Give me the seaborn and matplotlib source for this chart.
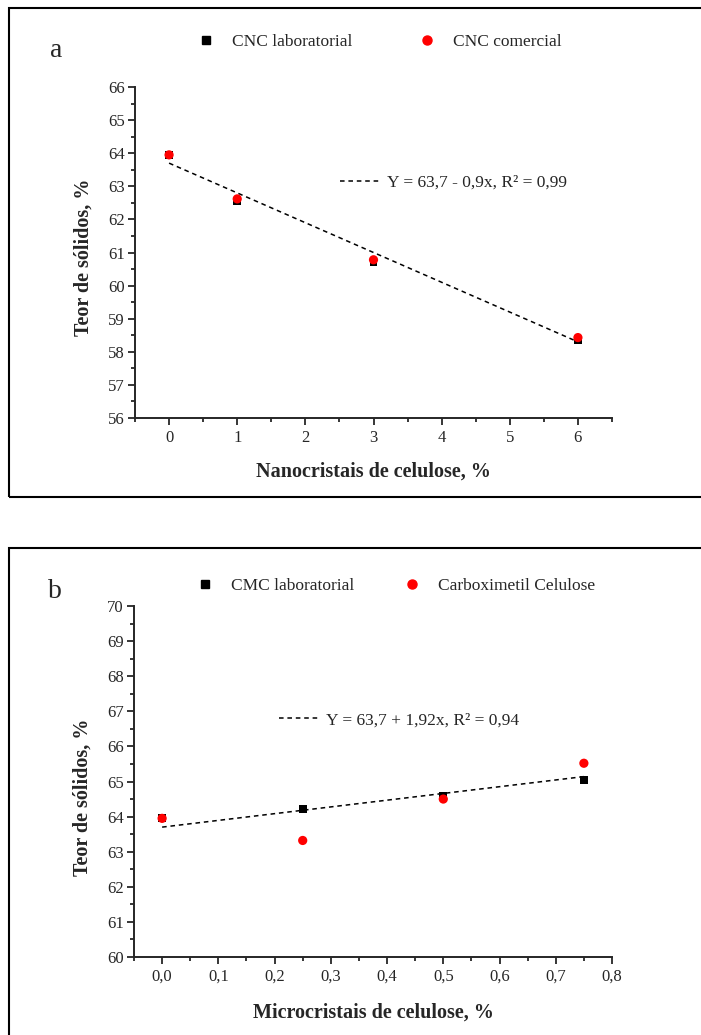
import numpy as np
import pandas as pd
import matplotlib
matplotlib.use("Agg")
import matplotlib.pyplot as plt
from matplotlib.lines import Line2D
from matplotlib.patches import Rectangle
from matplotlib.ticker import MultipleLocator, FuncFormatter
import seaborn as sns

# ---- data ----
# panel a: nanocrystals
cnc_x = [0, 1, 3, 6]
cnc_lab = [63.95, 62.55, 60.72, 58.35]
cnc_com = [63.95, 62.62, 60.78, 58.43]
cnc_fit_intercept, cnc_fit_slope = 63.7, -0.9
cnc_fit_label = "Y = 63,7 - 0,9x, R² = 0,99"

# panel b: microcrystals
cmc_x = [0.0, 0.25, 0.5, 0.75]
cmc_lab = [63.95, 64.22, 64.60, 65.05]
cmc_com = [63.95, 63.32, 64.50, 65.52]
cmc_fit_intercept, cmc_fit_slope = 63.7, 1.92
cmc_fit_label = "Y = 63,7 + 1,92x, R² = 0,94"

sns.set_style("ticks")
plt.rcParams["font.family"] = ["Liberation Serif", "DejaVu Serif"]
plt.rcParams["axes.linewidth"] = 1.4

fig = plt.figure(figsize=(7.01, 10.35), dpi=100)

# panel frames
for y0, h in [(1 - 497 / 1035, (497 - 8) / 1035), (-0.05, 1 - 548 / 1035 + 0.05)]:
    fig.patches.append(Rectangle((9 / 701, y0), 1.0, h, transform=fig.transFigure,
                                 fill=False, edgecolor="black", linewidth=1.5, zorder=0))

ax_a = fig.add_axes([135 / 701, 1 - 418 / 1035, 477 / 701, 331 / 1035])
ax_b = fig.add_axes([134 / 701, 1 - 957 / 1035, 478 / 701, 351 / 1035])

DASH = (0, (3, 2.5))


def draw_panel(ax, x, lab, com, a0, a1, fit_label, names, xlim, ylim,
               xmajor, xminor, xfmt, xlabel, leg_anchor, colsp, fit_anchor,
               ylab_y, xlab_y):
    df = pd.DataFrame({"x": x, "lab": lab, "com": com})
    fit = pd.DataFrame({"x": [x[0], x[-1]]})
    fit["y"] = a0 + a1 * fit["x"]
    sns.lineplot(data=fit, x="x", y="y", ax=ax, color="black", linewidth=1.1,
                 linestyle=DASH, zorder=2)
    sns.scatterplot(data=df, x="x", y="lab", ax=ax, marker="s", color="black",
                    s=32, edgecolor="none", zorder=3)
    sns.scatterplot(data=df, x="x", y="com", ax=ax, marker="o", color="#ff0000",
                    s=44, edgecolor="none", zorder=4)
    ax.set_xlim(*xlim)
    ax.set_ylim(*ylim)
    sns.despine(ax=ax)
    ax.xaxis.set_major_locator(MultipleLocator(xmajor))
    ax.xaxis.set_minor_locator(MultipleLocator(xminor))
    ax.yaxis.set_major_locator(MultipleLocator(1))
    ax.yaxis.set_minor_locator(MultipleLocator(0.5))
    ax.xaxis.set_major_formatter(FuncFormatter(xfmt))
    ax.tick_params(which="major", direction="out", length=5, width=1.1,
                   labelsize=12, pad=3.5, color="black")
    ax.tick_params(which="minor", direction="out", length=3, width=1.1, color="black")
    ax.tick_params(axis="y", pad=2.5)
    ax.set_xlabel(xlabel, fontsize=14.5, fontweight="bold", va="center")
    ax.set_ylabel("Teor de sólidos, %", fontsize=14.5, fontweight="bold", va="center")
    ax.xaxis.set_label_coords(0.5, xlab_y)
    ax.yaxis.set_label_coords(-0.108, ylab_y)

    h1 = Line2D([], [], marker="s", color="black", linestyle="none", markersize=5.5)
    h2 = Line2D([], [], marker="o", color="#ff0000", linestyle="none", markersize=6.5)
    leg = ax.legend([h1, h2], names, ncol=2, loc="center left",
                    bbox_to_anchor=leg_anchor, frameon=False, fontsize=12.5,
                    borderpad=0, borderaxespad=0, handlelength=1.0,
                    handletextpad=1.0, columnspacing=colsp)
    ax.add_artist(leg)
    hf = Line2D([], [], color="black", linewidth=1.1, linestyle=DASH)
    ax.legend([hf], [fit_label], loc="center left", bbox_to_anchor=fit_anchor,
              frameon=False, fontsize=12.5, borderpad=0, borderaxespad=0,
              handlelength=2.3, handletextpad=0.4)


draw_panel(ax_a, cnc_x, cnc_lab, cnc_com, cnc_fit_intercept, cnc_fit_slope,
           cnc_fit_label, ["CNC laboratorial", "CNC comercial"],
           (-0.5, 6.5), (56, 66), 1, 0.5, lambda v, p: f"{v:.0f}",
           "Nanocristais de celulose, %", (0.13, 1.136), 3.8, (0.43, 0.71),
           0.486, -0.163)

draw_panel(ax_b, cmc_x, cmc_lab, cmc_com, cmc_fit_intercept, cmc_fit_slope,
           cmc_fit_label, ["CMC laboratorial", "Carboximetil Celulose"],
           (-0.05, 0.8), (60, 70), 0.1, 0.05,
           lambda v, p: f"{v:.1f}".replace(".", ","),
           "Microcristais de celulose, %", (0.13, 1.057), 2.85, (0.303, 0.675),
           0.456, -0.157)

fig.text(56 / 701, 1 - 57 / 1035, "a", fontsize=20, ha="center", va="baseline")
fig.text(55 / 701, 1 - 598 / 1035, "b", fontsize=20, ha="center", va="baseline")

fig.savefig("out.png", dpi=100)
